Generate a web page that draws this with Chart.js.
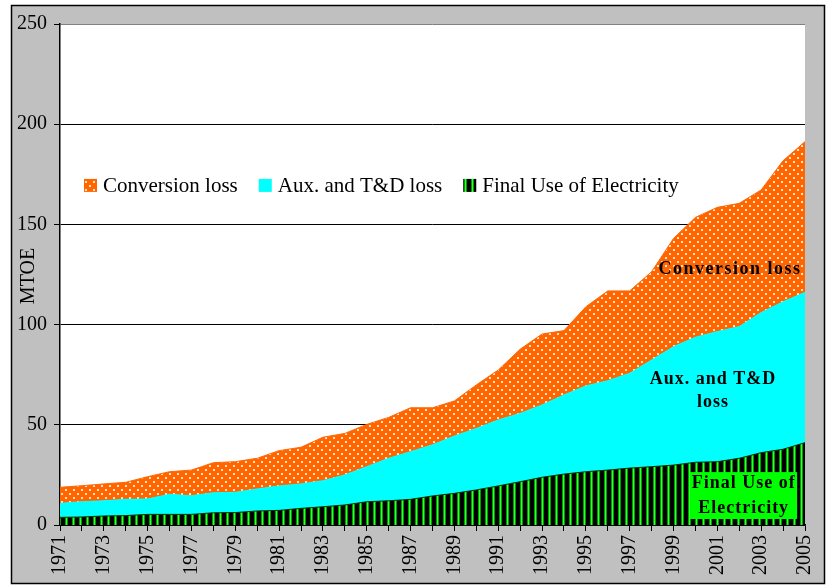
<!DOCTYPE html>
<html>
<head>
<meta charset="utf-8">
<script src="https://cdn.jsdelivr.net/npm/chart.js@4.4.0/dist/chart.umd.min.js"></script>
<style>
  html, body { margin: 0; padding: 0; background: #fff; }
  #wrap { width: 827px; height: 586px; }
</style>
</head>
<body>
<div id="wrap"><canvas id="myChart" width="827" height="586"></canvas></div>
<script>
const years = ['1971','1972','1973','1974','1975','1976','1977','1978','1979','1980',
  '1981','1982','1983','1984','1985','1986','1987','1988','1989','1990',
  '1991','1992','1993','1994','1995','1996','1997','1998','1999','2000',
  '2001','2002','2003','2004','2005'];

// MTOE (stacked: final + aux + conversion)
const finalUse = [3.8,4.0,4.5,4.7,5.3,5.3,5.3,6.1,6.2,7.0,
  7.3,8.3,9.1,10.0,11.6,12.1,12.8,14.5,15.8,17.5,
  19.5,21.6,23.8,25.4,26.6,27.4,28.4,29.1,29.9,31.3,
  31.6,33.3,36.1,37.8,41.1];
const auxLoss = [7.0,7.6,7.6,8.1,7.7,10.0,9.3,10.0,10.1,11.0,
  12.2,12.2,13.0,15.0,17.5,21.2,23.8,25.5,28.6,30.7,
  32.9,34.1,36.1,39.5,42.8,44.6,47.3,53.2,59.1,62.4,
  64.9,65.7,69.9,73.6,75.0];
const conversionLoss = [8.0,8.0,8.4,8.5,11.1,11.3,12.8,15.0,15.3,15.3,
  17.6,18.3,21.7,20.7,21.1,20.4,21.9,18.5,17.5,21.7,
  24.9,32.0,35.4,32.1,39.5,44.8,41.1,44.1,54.0,59.8,
  62.0,61.5,61.2,70.4,75.2];
const yTicks = [0, 50, 100, 150, 200, 250];

const serif = "'Liberation Serif', 'Times New Roman', serif";

function dotPattern() {
  const c = document.createElement('canvas');
  c.width = 8; c.height = 8;
  const x = c.getContext('2d');
  x.fillStyle = '#FF6600';
  x.fillRect(0, 0, 8, 8);
  x.fillStyle = '#FFE2C8';
  x.fillRect(1, 1, 2, 2);
  x.fillRect(5, 5, 2, 2);
  return x.createPattern(c, 'repeat');
}

function stripePattern() {
  const c = document.createElement('canvas');
  c.width = 7; c.height = 4;
  const x = c.getContext('2d');
  x.fillStyle = '#000';
  x.fillRect(0, 0, 7, 4);
  x.fillStyle = '#00A000';
  x.fillRect(2, 0, 1, 4);
  x.fillRect(4, 0, 1, 4);
  x.fillStyle = '#33FF33';
  x.fillRect(3, 0, 1, 4);
  return x.createPattern(c, 'repeat');
}

const orangeDots = dotPattern();
const greenStripes = stripePattern();

const legendItems = [
  { text: 'Conversion loss', fill: orangeDots },
  { text: 'Aux. and T&D loss', fill: '#00FFFF' },
  { text: 'Final Use of Electricity', fill: greenStripes }
];

const framePlugin = {
  id: 'frame',
  beforeDraw(chart) {
    const ctx = chart.ctx;
    const a = chart.chartArea;
    ctx.save();
    ctx.fillStyle = '#C0C0C0';
    ctx.fillRect(11, 5, 814, 579);
    ctx.fillStyle = '#FFFFFF';
    ctx.fillRect(a.left, a.top, a.right - a.left, a.bottom - a.top);
    ctx.restore();
  },
  afterDraw(chart) {
    const ctx = chart.ctx;
    const xs = chart.scales.x;
    const ys = chart.scales.y;
    ctx.save();
    ctx.strokeStyle = '#000';
    ctx.lineWidth = 1.5;
    ctx.strokeRect(11.5, 5.5, 813, 578);

    // y title
    ctx.save();
    ctx.translate(29, 276);
    ctx.rotate(-Math.PI / 2);
    ctx.font = '20px ' + serif;
    ctx.fillStyle = '#000';
    ctx.textAlign = 'center';
    ctx.textBaseline = 'middle';
    ctx.fillText('MTOE', 0, 0);
    ctx.restore();

    // legend inside plot
    ctx.font = '21px ' + serif;
    ctx.textBaseline = 'alphabetic';
    let lx = 84;
    const swTop = ys.getPixelForValue(172.7);
    const base = ys.getPixelForValue(166.0);
    legendItems.forEach(item => {
      ctx.fillStyle = item.fill;
      ctx.fillRect(lx, swTop, 13, 13);
      lx += 19;
      ctx.fillStyle = '#000';
      ctx.textAlign = 'left';
      ctx.fillText(item.text, lx, base);
      lx += ctx.measureText(item.text).width + 21;
    });

    // labels on the areas
    ctx.font = 'bold 18px ' + serif;
    ctx.textAlign = 'center';
    ctx.fillStyle = '#000';
    ctx.letterSpacing = '1.5px';
    ctx.fillText('Conversion loss', xs.getPixelForValue(30.58), ys.getPixelForValue(125.2));
    ctx.letterSpacing = '1px';
    ctx.fillText('Aux. and T&D', xs.getPixelForValue(29.8), ys.getPixelForValue(70.4));
    ctx.fillText('loss', xs.getPixelForValue(29.8), ys.getPixelForValue(58.9));

    const bx1 = xs.getPixelForValue(28.75), bx2 = xs.getPixelForValue(33.64);
    const by1 = ys.getPixelForValue(26.4), by2 = ys.getPixelForValue(3.0);
    ctx.fillStyle = '#00FF00';
    ctx.fillRect(bx1, by1, bx2 - bx1, by2 - by1);
    ctx.fillStyle = '#000';
    ctx.fillText('Final Use of', xs.getPixelForValue(31.2), ys.getPixelForValue(18.5));
    ctx.fillText('Electricity', xs.getPixelForValue(31.2), ys.getPixelForValue(6.0));
    ctx.restore();
  }
};

const ctx = document.getElementById('myChart').getContext('2d');
new Chart(ctx, {
  type: 'line',
  data: {
    labels: years,
    datasets: [
      {
        label: 'Final Use of Electricity',
        data: finalUse,
        backgroundColor: greenStripes,
        borderColor: '#003300',
        borderWidth: 1,
        fill: 'origin',
        pointRadius: 0,
        tension: 0
      },
      {
        label: 'Aux. and T&D loss',
        data: auxLoss,
        backgroundColor: '#00FFFF',
        borderColor: '#00FFFF',
        borderWidth: 1,
        fill: '-1',
        pointRadius: 0,
        tension: 0
      },
      {
        label: 'Conversion loss',
        data: conversionLoss,
        backgroundColor: orangeDots,
        borderColor: '#FF6600',
        borderWidth: 1,
        fill: '-1',
        pointRadius: 0,
        tension: 0
      }
    ]
  },
  options: {
    responsive: false,
    animation: false,
    layout: { padding: { left: 12, top: 24, right: 22, bottom: 6 } },
    plugins: {
      legend: { display: false },
      tooltip: { enabled: false }
    },
    scales: {
      x: {
        offset: false,
        afterFit: (scale) => { scale.height = 55; scale.paddingRight = 0; },
        grid: {
          drawOnChartArea: false,
          tickLength: 6,
          tickColor: '#000'
        },
        border: { color: '#000', width: 1.5 },
        ticks: {
          autoSkip: false,
          minRotation: 90,
          maxRotation: 90,
          padding: 4,
          color: '#000',
          font: { family: serif, size: 20 },
          callback: function (v, i) { return i % 2 === 0 ? years[i] : ''; }
        }
      },
      y: {
        stacked: true,
        min: 0,
        max: 250,
        afterFit: (scale) => { scale.width = 48; },
        afterBuildTicks: (scale) => { scale.ticks = yTicks.map(v => ({ value: v })); },
        grid: {
          color: (c) => c.tick && c.tick.value === 250 ? '#808080' : '#000',
          lineWidth: 1,
          tickLength: 6,
          tickColor: '#000'
        },
        border: { color: '#000', width: 1.5 },
        ticks: {
          padding: 7,
          color: '#000',
          font: { family: serif, size: 20 }
        }
      }
    }
  },
  plugins: [framePlugin]
});
</script>
</body>
</html>
